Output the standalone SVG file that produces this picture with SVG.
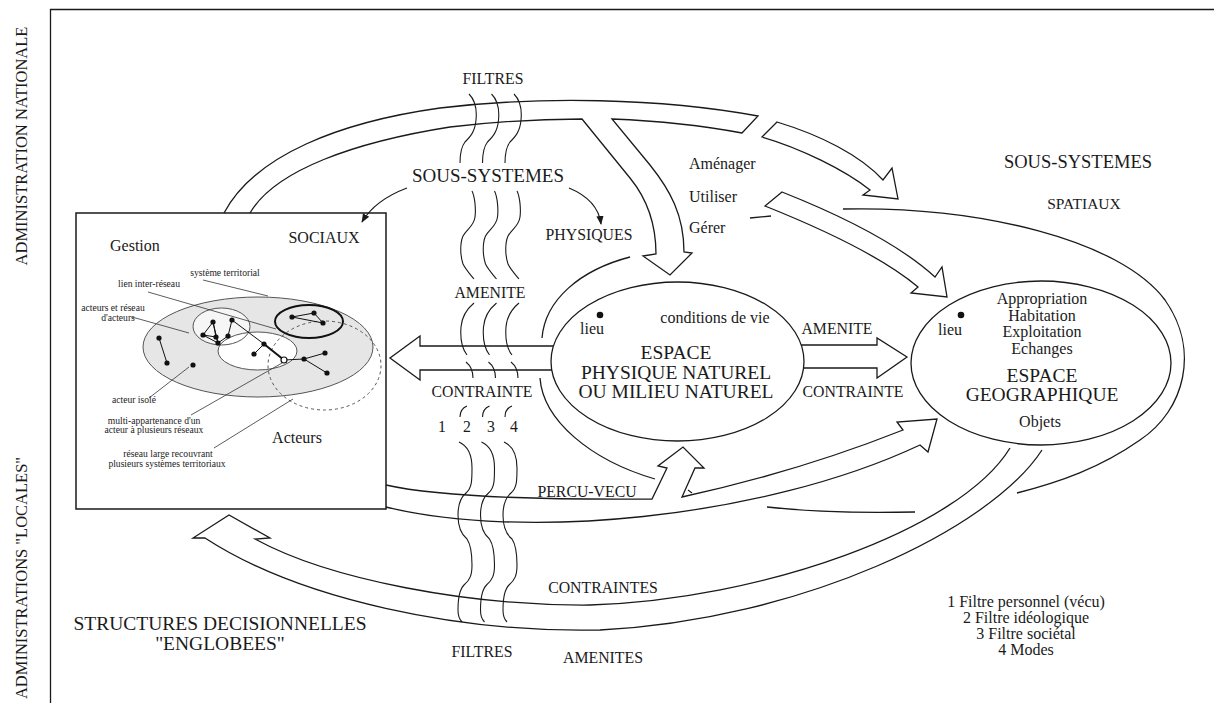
<svg xmlns="http://www.w3.org/2000/svg" width="1214" height="703" viewBox="0 0 1214 703">
<defs>
<style>
text{font-family:"Liberation Serif","Times New Roman",serif;fill:#1a1a1a}
.ln{fill:none;stroke:#1a1a1a;stroke-width:1.3;stroke-linejoin:miter}
.th{fill:none;stroke:#1a1a1a;stroke-width:1.1}
.ld{fill:none;stroke:#333;stroke-width:0.8}
.ed{fill:none;stroke:#111;stroke-width:1}
.lab{font-size:15.8px;text-anchor:middle}
.big{font-size:19.5px;text-anchor:middle}
.mid{font-size:16px}
.c{text-anchor:middle}
.sm{font-size:9.6px;text-anchor:middle;fill:#222}
.dot{fill:#111}
</style>
<marker id="ah" viewBox="0 0 10 10" refX="9" refY="5" markerWidth="9" markerHeight="9" markerUnits="userSpaceOnUse" orient="auto"><path d="M0,1 L10,5 L0,9 Z" fill="#1a1a1a"/></marker>
<path id="wave" class="th" d="M469,94 C475,100 477,110 476,120 C475,132 470,137 465,142 C461,147 460,153 460,163 M472,191 C475,197 476,210 475,217 C474,226 467,229 463,236 C460,243 460,255 463,264 C466,270 470,274 474,279 M474,303 C468,308 462,315 461,327 C460,340 463,350 467,355 M466,362 C471,366 473,372 473,378 M467,406 C462,408 460,412 460,417 M459,442 C468,446 472,455 472,468 C472,480 472,488 466,493 C460,498 458,505 458,515 C458,528 462,535 467,539 C471,545 472,553 472,565 C472,575 470,580 464,585 C459,590 458,600 458,610 C458,616 460,620 462,622"/>
</defs>
<rect width="1214" height="703" fill="#fff"/>

<g id="frame">
<path class="ln" d="M50.5,703 L50.5,9.5 L1214,9.5"/>
<text transform="translate(27,146) rotate(-90)" font-size="16.5" text-anchor="middle">ADMINISTRATION NATIONALE</text>
<text transform="translate(27,578) rotate(-90)" font-size="16.5" text-anchor="middle">ADMINISTRATIONS "LOCALES"</text>
</g>

<g id="sous-systemes-sociaux">
<rect x="76" y="213" width="310" height="296" fill="#fff" stroke="#1a1a1a" stroke-width="1.5"/>
<text x="110" y="251" class="mid">Gestion</text>
<text x="324" y="243" font-size="16" text-anchor="middle">SOCIAUX</text>
<text x="297" y="443" class="mid c">Acteurs</text>
<ellipse cx="258" cy="347" rx="115" ry="50" fill="#e6e6e6" stroke="#555" stroke-width="1"/>
<ellipse cx="221.5" cy="326.5" rx="28.5" ry="18.5" fill="#f6f6f6"/>
<ellipse cx="257.5" cy="351" rx="39.5" ry="19" fill="#fff"/>
<ellipse cx="221.5" cy="326.5" rx="28.5" ry="18.5" fill="none" stroke="#555"/>
<ellipse cx="257.5" cy="351" rx="39.5" ry="19" fill="none" stroke="#555"/>
<ellipse cx="309" cy="321.5" rx="34" ry="16.5" fill="none" stroke="#111" stroke-width="2"/>
<ellipse cx="324.5" cy="365.5" rx="56.5" ry="44.5" fill="none" stroke="#555" stroke-dasharray="3 3"/>
<path class="ed" d="M159,338 L167,363 M213,322 L203,335 M213,322 L216,337 M213,322 L218,343 M203,335 L216,337 M203,335 L218,343 M216,337 L218,343 M218,343 L228,336 M228,336 L232,320 M232,320 L264,344 M264,344 L254,354 M284,360 L304,359 L325,353 M304,359 L327,373 M292,317 L314,313 L323,323 Z"/>
<path d="M264,344 L284,360" stroke="#111" stroke-width="2"/>
<g class="dot">
<circle cx="159" cy="338" r="2.6"/><circle cx="167" cy="363" r="2.6"/><circle cx="193" cy="365" r="2.6"/>
<circle cx="213" cy="322" r="2.6"/><circle cx="203" cy="335" r="2.6"/><circle cx="216" cy="337" r="2.6"/>
<circle cx="228" cy="336" r="2.6"/><circle cx="218" cy="343" r="2.6"/><circle cx="232" cy="320" r="2.6"/>
<circle cx="264" cy="344" r="2.6"/><circle cx="254" cy="354" r="2.6"/>
<circle cx="292" cy="317" r="2.6"/><circle cx="314" cy="313" r="2.6"/><circle cx="323" cy="323" r="2.6"/>
<circle cx="304" cy="359" r="2.6"/><circle cx="325" cy="353" r="2.6"/><circle cx="327" cy="373" r="2.6"/>
</g>
<circle cx="284" cy="360" r="3" fill="#fff" stroke="#111" stroke-width="1.2"/>
<path class="ld" d="M203,280 L268,296 M148,292 L276,329 M132,317 L189,333 M149,398 L189,367 M191,415 L282,363 M214,448 L293,399"/>
<text x="225" y="276" class="sm">système territorial</text>
<text x="149" y="287" class="sm">lien inter-réseau</text>
<text x="113" y="311" class="sm">acteurs et réseau</text>
<text x="118" y="321" class="sm">d'acteurs</text>
<text x="134" y="403" class="sm">acteur isolé</text>
<text x="154" y="424" class="sm">multi-appartenance d'un</text>
<text x="154" y="433" class="sm">acteur à plusieurs réseaux</text>
<text x="168" y="457" class="sm">réseau large recouvrant</text>
<text x="167" y="467" class="sm">plusieurs systèmes territoriaux</text>
</g>

<g id="connectors">
<path class="ln" d="M224,213 C255,155 340,122 440,108 C540,96 660,98 758,116 L742,133 C710,127 660,121 612,119 L650,165 C670,190 684,215 684,252 L692,253 L670,275 L643,256 L656,254 C656,225 648,200 630,178 L582,119 C550,119 500,121 450,127 C355,142 275,170 250,213"/>
<path class="ln" d="M762,137 C800,148 845,170 870,190 L863,195 L898,199 L892,168 L883,180 C860,155 820,135 777,122 Z"/>
<path class="ln" d="M765,206 C820,228 880,255 918,287 L911,293 L947,297 L942,267 L935,277 C900,245 840,215 782,192 Z"/>
<path class="ln" d="M553,346 L420,346 L420,336 L390,358 L420,380 L420,370 L552,370"/>
<path class="ln" d="M801,345 L877,345 L877,338 L907,357 L877,378 L877,368 L804,368"/>
<path class="ln" d="M386,485 C430,495 520,500 652,499 L667,468 L658,466 L683,447 L704,468 L695,468 L682,497 C760,480 840,455 903,430 L897,422 L937,419 L928,452 L920,445 C760,520 520,540 386,507"/>
<path class="th" d="M688,490 L692,493"/>
<path class="ln" d="M1010,448 C960,530 760,600 590,605 C470,606 330,580 255,539 L270,538 L229,515 L193,538 L205,538 C300,600 460,633 600,630 C800,620 990,530 1042,450"/>
<path class="ln" d="M542,338 C545,300 580,270 630,257"/>
<path class="ln" d="M540,378 C543,420 590,460 655,479"/>
<path class="ln" d="M767,507 Q830,514 915,512"/>
<path class="ln" d="M843,209 C980,206 1120,240 1165,300 C1200,350 1185,410 1140,440 C1100,468 1060,482 1017,493"/>
<path class="ln" d="M750,218 L771,216"/>
<path class="th" d="M407,188 Q375,200 362,222" marker-end="url(#ah)"/>
<path class="th" d="M569,188 Q598,200 601,224" marker-end="url(#ah)"/>
<use href="#wave"/>
<use href="#wave" x="22.5"/>
<use href="#wave" x="45"/>
</g>

<g id="labels">
<text x="493" y="84" class="lab">FILTRES</text>
<text x="488" y="182" font-size="19" text-anchor="middle">SOUS-SYSTEMES</text>
<text x="589" y="240" class="lab">PHYSIQUES</text>
<text x="490" y="298" class="lab">AMENITE</text>
<text x="482" y="397" class="lab">CONTRAINTE</text>
<text x="442" y="432" class="lab">1</text>
<text x="467" y="432" class="lab">2</text>
<text x="491" y="432" class="lab">3</text>
<text x="514" y="432" class="lab">4</text>
<text x="587" y="497" class="lab">PERCU-VECU</text>
<text x="603" y="593" class="lab">CONTRAINTES</text>
<text x="482" y="657" class="lab">FILTRES</text>
<text x="603" y="663" class="lab">AMENITES</text>
<text x="837" y="334" class="lab">AMENITE</text>
<text x="853" y="397" class="lab">CONTRAINTE</text>
<text x="689" y="169" class="mid">Aménager</text>
<text x="689" y="202" class="mid">Utiliser</text>
<text x="689" y="233" class="mid">Gérer</text>
<text x="1078" y="168" font-size="18.5" text-anchor="middle">SOUS-SYSTEMES</text>
<text x="1084" y="209" font-size="15.5" text-anchor="middle">SPATIAUX</text>
<text x="220" y="630" class="big">STRUCTURES DECISIONNELLES</text>
<text x="220" y="650" class="big">"ENGLOBEES"</text>
<text x="1026" y="607" class="mid c">1 Filtre personnel (vécu)</text>
<text x="1026" y="623" class="mid c">2 Filtre idéologique</text>
<text x="1026" y="639" class="mid c">3 Filtre sociétal</text>
<text x="1026" y="655" class="mid c">4 Modes</text>
</g>

<g id="espace-physique">
<ellipse cx="677.5" cy="361.5" rx="126.5" ry="79.5" fill="none" stroke="#1a1a1a" stroke-width="1.3"/>
<circle cx="600" cy="315" r="3.3" class="dot"/>
<text x="592" y="334" class="mid c">lieu</text>
<text x="715" y="323" class="mid c">conditions de vie</text>
<text x="676" y="359" class="big">ESPACE</text>
<text x="676" y="379" class="big">PHYSIQUE NATUREL</text>
<text x="676" y="398" class="big">OU MILIEU NATUREL</text>
</g>

<g id="espace-geographique">
<ellipse cx="1041" cy="363" rx="130" ry="82" fill="none" stroke="#1a1a1a" stroke-width="1.3"/>
<circle cx="961" cy="315" r="3.3" class="dot"/>
<text x="950" y="335" class="mid c">lieu</text>
<text x="1042" y="304" class="mid c">Appropriation</text>
<text x="1042" y="321" class="mid c">Habitation</text>
<text x="1042" y="337" class="mid c">Exploitation</text>
<text x="1042" y="354" class="mid c">Echanges</text>
<text x="1042" y="382" class="big">ESPACE</text>
<text x="1042" y="401" class="big">GEOGRAPHIQUE</text>
<text x="1040" y="427" class="mid c">Objets</text>
</g>
</svg>
